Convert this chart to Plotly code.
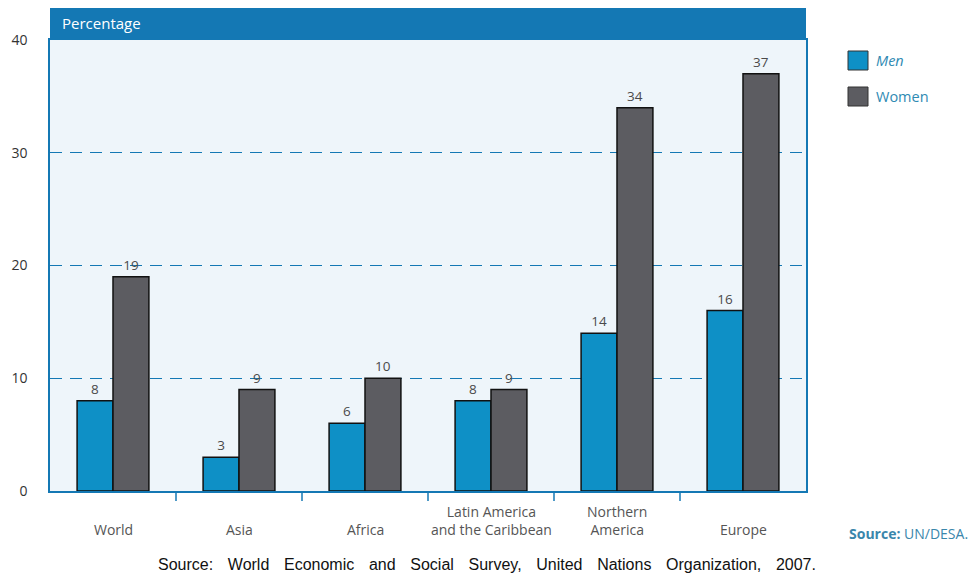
import plotly.graph_objects as go

# Share of population living alone, by region and sex (percent)
regions = ["World", "Asia", "Africa", "Latin America<br>and the Caribbean",
           "Northern<br>America", "Europe"]
men = [8, 3, 6, 8, 14, 16]
women = [19, 9, 10, 9, 34, 37]
y_ticks = [0, 10, 20, 30, 40]

BLUE = "#1478b4"
MEN_C = "#0e90c6"
WOMEN_C = "#5c5c61"
TEXT_C = "#4a4a4a"
FONT = "Open Sans"

W, H = 971, 576
L, R, T, B = 50, 165, 40, 85
PW, PH = W - L - R, H - T - B


def px_x(p):
    return (p - L) / PW


def px_y(p):
    return (H - B - p) / PH


fig = go.Figure()
fig.add_trace(go.Bar(
    name="Men", x=list(range(len(regions))), y=men, marker_color=MEN_C,
    marker_line=dict(color="#111", width=1.5),
    text=[str(v) for v in men], textposition="outside",
    textfont=dict(family=FONT, size=13.5, color=TEXT_C), cliponaxis=False,
))
fig.add_trace(go.Bar(
    name="Women", x=list(range(len(regions))), y=women, marker_color=WOMEN_C,
    marker_line=dict(color="#111", width=1.5),
    text=[str(v) for v in women], textposition="outside",
    textfont=dict(family=FONT, size=13.5, color=TEXT_C), cliponaxis=False,
))

shapes = []
annotations = []

# header band above the plotting area
shapes.append(dict(type="rect", xref="paper", yref="paper", x0=0, x1=1,
                   y0=1, y1=1 + 32 / PH, fillcolor=BLUE, line=dict(width=0),
                   layer="above"))
annotations.append(dict(text="Percentage", xref="paper", yref="paper",
                        x=px_x(60), y=1 + 17 / PH, xanchor="left", yanchor="middle",
                        showarrow=False, font=dict(family=FONT, size=15, color="white")))

# separators between region groups
for i in range(len(regions) - 1):
    shapes.append(dict(type="line", xref="x", yref="paper", x0=i + 0.5, x1=i + 0.5,
                       y0=0, y1=-10 / PH, line=dict(color=BLUE, width=1.5)))

# region labels, aligned on their bottom line
for i, name in enumerate(regions):
    annotations.append(dict(text=name, xref="x", yref="paper", x=i, y=px_y(541),
                            xanchor="center", yanchor="bottom", showarrow=False,
                            font=dict(family=FONT, size=14, color="#555")))

# legend
for label, color, top, style in [("Men", MEN_C, 51, "<i>Men</i>"),
                                 ("Women", WOMEN_C, 87, "Women")]:
    shapes.append(dict(type="rect", xref="paper", yref="paper",
                       x0=px_x(848), x1=px_x(868), y0=px_y(top + 19), y1=px_y(top),
                       fillcolor=color, line=dict(color="#333", width=1)))
    annotations.append(dict(text=style, xref="paper", yref="paper",
                            x=px_x(874), y=px_y(top + 10), xanchor="left",
                            yanchor="middle", showarrow=False,
                            font=dict(family=FONT, size=14.5, color="#2f8ab3")))

annotations.append(dict(text="<b>Source:</b> UN/DESA.", xref="paper", yref="paper",
                        x=px_x(970), y=px_y(533), xanchor="right", yanchor="middle",
                        showarrow=False, font=dict(family=FONT, size=14, color="#3a86ab")))

gap = "\u00a0" * 3 + "\u200a"
caption = gap.join(["Source:", "World", "Economic", "and", "Social", "Survey,",
                    "United", "Nations", "Organization,", "2007."])
annotations.append(dict(text=caption, xref="paper", yref="paper",
                        x=px_x(487), y=px_y(564), xanchor="center", yanchor="middle",
                        showarrow=False,
                        font=dict(family="Liberation Sans, Arial", size=16, color="#111")))

fig.update_layout(
    width=W, height=H, margin=dict(l=L, r=R, t=T, b=B),
    paper_bgcolor="white", plot_bgcolor="#eef5fa",
    barmode="group", bargap=0.43, bargroupgap=0,
    showlegend=False, shapes=shapes, annotations=annotations,
    font=dict(family=FONT),
)
fig.update_xaxes(range=[-0.5, len(regions) - 0.5], showticklabels=False,
                 showgrid=False, showline=True, linecolor=BLUE, linewidth=1.5,
                 mirror=True, ticks="", zeroline=False)
fig.update_yaxes(range=[0, 40], tickvals=y_ticks, showgrid=True, gridcolor=BLUE,
                 griddash="12px,8px", gridwidth=1, showline=True, linecolor=BLUE,
                 linewidth=1.5, mirror=True, zeroline=False, ticks="",
                 ticklabelstandoff=18, tickfont=dict(family=FONT, size=14, color="#333"))

fig.write_html("out.html")
